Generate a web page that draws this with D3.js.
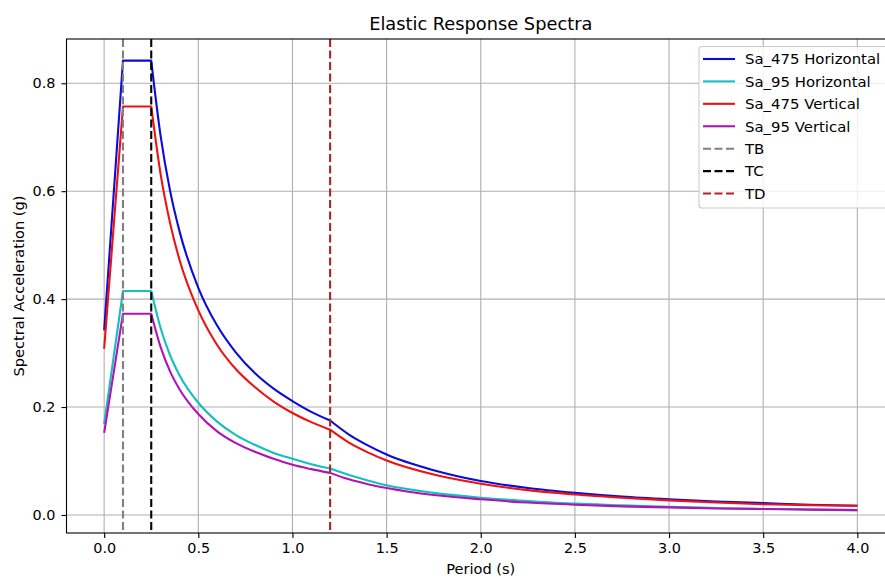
<!DOCTYPE html>
<html>
<head>
<meta charset="utf-8">
<script src="https://cdn.jsdelivr.net/npm/d3@7"></script>
<style>
  html, body { margin: 0; padding: 0; background: #ffffff; }
  svg { display: block; font-family: "DejaVu Sans", sans-serif; }
</style>
</head>
<body>
<svg id="chart" width="885" height="578"></svg>
<script>
// ---------------- data ----------------
const title = "Elastic Response Spectra";
const xLabel = "Period (s)";
const yLabel = "Spectral Acceleration (g)";

const periods = [0, 0.1, 0.25, 0.3, 0.35, 0.4, 0.5, 0.6, 0.7, 0.8, 0.9, 1.0, 1.1, 1.2,
                 1.3, 1.4, 1.5, 1.75, 2.0, 2.25, 2.5, 2.75, 3.0, 3.25, 3.5, 3.75, 4.0];

const sa475Horizontal = [0.342, 0.842, 0.842, 0.702, 0.601, 0.526, 0.421, 0.351, 0.301, 0.263, 0.234, 0.211, 0.191, 0.175,
                         0.149, 0.129, 0.112, 0.083, 0.063, 0.050, 0.041, 0.034, 0.029, 0.025, 0.022, 0.019, 0.017];
const sa95Horizontal  = [0.169, 0.415, 0.415, 0.346, 0.296, 0.259, 0.208, 0.173, 0.148, 0.130, 0.115, 0.104, 0.094, 0.086,
                         0.074, 0.064, 0.055, 0.041, 0.032, 0.026, 0.021, 0.018, 0.015, 0.013, 0.011, 0.010, 0.009];
const sa475Vertical   = [0.308, 0.757, 0.757, 0.631, 0.541, 0.473, 0.379, 0.315, 0.270, 0.237, 0.210, 0.189, 0.172, 0.158,
                         0.134, 0.116, 0.101, 0.075, 0.058, 0.046, 0.038, 0.032, 0.027, 0.023, 0.020, 0.018, 0.017];
const sa95Vertical    = [0.152, 0.373, 0.373, 0.311, 0.266, 0.233, 0.187, 0.155, 0.133, 0.117, 0.104, 0.093, 0.085, 0.078,
                         0.066, 0.057, 0.050, 0.037, 0.029, 0.023, 0.019, 0.016, 0.014, 0.012, 0.011, 0.010, 0.009];

const seriesNames  = ["Sa_475 Horizontal", "Sa_95 Horizontal", "Sa_475 Vertical", "Sa_95 Vertical"];
const seriesValues = [sa475Horizontal, sa95Horizontal, sa475Vertical, sa95Vertical];
const seriesColors = ["#0c0cd8", "#15bfbf", "#ee1212", "#b214b4"];

const cornerNames  = ["TB", "TC", "TD"];
const cornerPeriods = [0.1, 0.25, 1.2];
const cornerColors = ["#808080", "#000000", "#b22222"];

const xTicks = [0, 0.5, 1.0, 1.5, 2.0, 2.5, 3.0, 3.5, 4.0];
const yTicks = [0.0, 0.2, 0.4, 0.6, 0.8];

// ---------------- layout ----------------
const svg = d3.select("#chart");
const plot = { left: 66.5, top: 39, right: 895, bottom: 533 };

const x = d3.scaleLinear().domain([-0.2, 4.2]).range([plot.left, plot.right]);
const y = d3.scaleLinear().domain([-0.0334, 0.882]).range([plot.bottom, plot.top]);

const fmt = d3.format(".1f");
const gridColor = "#b0b0b0";

// grid
const grid = svg.append("g");
grid.selectAll("line.gx").data(xTicks).join("line")
  .attr("x1", d => x(d)).attr("x2", d => x(d))
  .attr("y1", plot.top).attr("y2", plot.bottom)
  .attr("stroke", gridColor).attr("stroke-width", 1.1);
grid.selectAll("line.gy").data(yTicks).join("line")
  .attr("x1", plot.left).attr("x2", plot.right)
  .attr("y1", d => y(d)).attr("y2", d => y(d))
  .attr("stroke", gridColor).attr("stroke-width", 1.1);

// curves: linear rise & plateau, smooth decay split at the corner periods
const lineLin = d3.line().x(d => x(d[0])).y(d => y(d[1])).curve(d3.curveLinear);
const lineMono = d3.line().x(d => x(d[0])).y(d => y(d[1])).curve(d3.curveMonotoneX);

function spectrumPath(vals) {
  const pts = periods.map((p, i) => [p, vals[i]]);
  const iC = periods.indexOf(0.25);
  const iD = periods.indexOf(1.2);
  const a = lineLin(pts.slice(0, iC + 1));
  const b = lineMono(pts.slice(iC, iD + 1)).replace(/^M/, "L");
  const c = lineMono(pts.slice(iD)).replace(/^M/, "L");
  return a + b + c;
}

const curves = svg.append("g");
seriesValues.forEach((vals, i) => {
  curves.append("path")
    .attr("d", spectrumPath(vals))
    .attr("fill", "none")
    .attr("stroke", seriesColors[i])
    .attr("stroke-width", 2.1)
    .attr("stroke-linejoin", "round");
});

// vertical corner-period lines
const vlines = svg.append("g");
vlines.selectAll("line").data(cornerPeriods).join("line")
  .attr("x1", d => x(d)).attr("x2", d => x(d))
  .attr("y1", plot.top).attr("y2", plot.bottom)
  .attr("stroke", (d, i) => cornerColors[i])
  .attr("stroke-width", 2.1)
  .attr("stroke-dasharray", "8,3.5");

// frame
svg.append("rect")
  .attr("x", plot.left).attr("y", plot.top)
  .attr("width", plot.right - plot.left).attr("height", plot.bottom - plot.top)
  .attr("fill", "none").attr("stroke", "#000").attr("stroke-width", 1.1);

// axes
const xAxis = svg.append("g")
  .attr("transform", `translate(0,${plot.bottom})`)
  .call(d3.axisBottom(x).tickValues(xTicks).tickFormat(fmt).tickSize(5).tickSizeOuter(0).tickPadding(5));
const yAxis = svg.append("g")
  .attr("transform", `translate(${plot.left},0)`)
  .call(d3.axisLeft(y).tickValues(yTicks).tickFormat(fmt).tickSize(5).tickSizeOuter(0).tickPadding(6));
[xAxis, yAxis].forEach(g => {
  g.select(".domain").remove();
  g.selectAll(".tick line").attr("stroke", "#000").attr("stroke-width", 1.1);
  g.selectAll(".tick text").attr("fill", "#000")
    .style("font-family", "DejaVu Sans").style("font-size", "14.4px");
});

// title and labels
svg.append("text")
  .attr("x", (plot.left + plot.right) / 2).attr("y", 30)
  .attr("text-anchor", "middle")
  .style("font-size", "17.8px").attr("fill", "#000")
  .text(title);
svg.append("text")
  .attr("x", (plot.left + plot.right) / 2).attr("y", 574)
  .attr("text-anchor", "middle")
  .style("font-size", "14.6px").attr("fill", "#000")
  .text(xLabel);
svg.append("text")
  .attr("transform", `translate(24,${(plot.top + plot.bottom) / 2}) rotate(-90)`)
  .attr("text-anchor", "middle")
  .style("font-size", "14.6px").attr("fill", "#000")
  .text(yLabel);

// legend
const legendItems = seriesNames.map((n, i) => ({ name: n, color: seriesColors[i], dash: null }))
  .concat(cornerNames.map((n, i) => ({ name: n, color: cornerColors[i], dash: "8,3.5" })));
const lg = svg.append("g");
lg.append("rect")
  .attr("x", 699).attr("y", 46.5)
  .attr("width", 189).attr("height", 161.5)
  .attr("rx", 3).attr("ry", 3)
  .attr("fill", "#ffffff").attr("fill-opacity", 0.8)
  .attr("stroke", "#cccccc").attr("stroke-width", 1.1);
const rowY = i => 59 + i * 22.42;
lg.selectAll("line").data(legendItems).join("line")
  .attr("x1", 703).attr("x2", 735)
  .attr("y1", (d, i) => rowY(i)).attr("y2", (d, i) => rowY(i))
  .attr("stroke", d => d.color).attr("stroke-width", 2.1)
  .attr("stroke-dasharray", d => d.dash);
lg.selectAll("text").data(legendItems).join("text")
  .attr("x", 745).attr("y", (d, i) => rowY(i) + 5.3)
  .style("font-size", "14.9px").attr("fill", "#000")
  .text(d => d.name);
</script>
</body>
</html>
